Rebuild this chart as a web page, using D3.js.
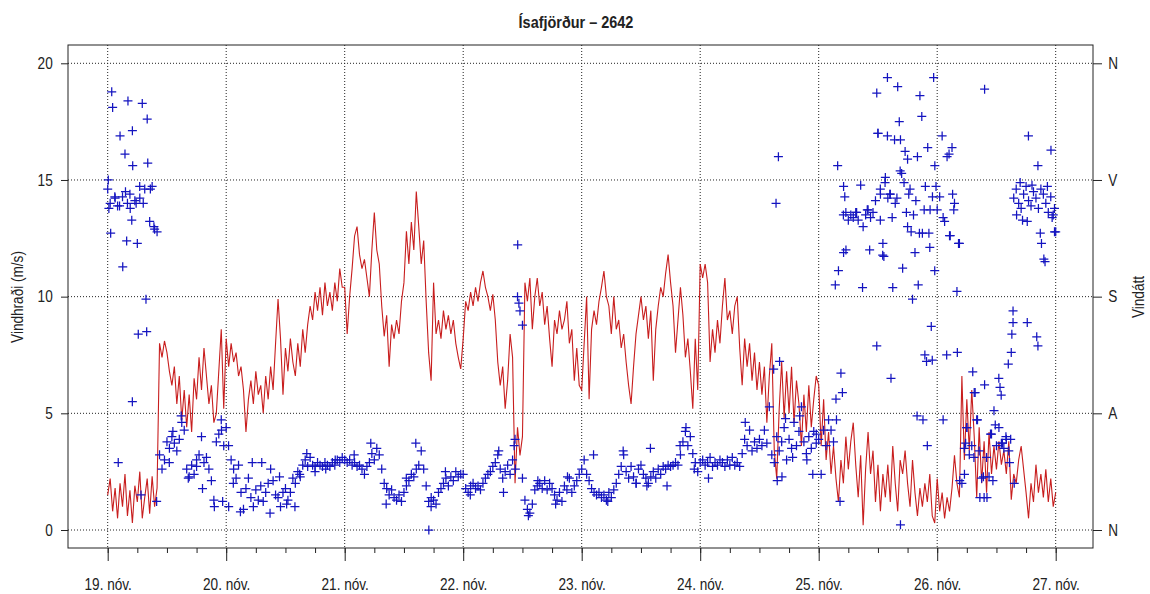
<!DOCTYPE html>
<html lang="is">
<head>
<meta charset="utf-8">
<title>Ísafjörður – 2642</title>
<script src="https://d3js.org/d3.v7.min.js"></script>
<style>
  body {margin: 0; background: #fff;}
  text {font-family: "Liberation Sans", Arial, sans-serif; fill: #222;}
</style>
</head>
<body>
<script>
// x axis: days of November
var dayTicks = [19, 20, 21, 22, 23, 24, 25, 26, 27];
var dayLabels = ["19. nóv.", "20. nóv.", "21. nóv.", "22. nóv.", "23. nóv.", "24. nóv.", "25. nóv.", "26. nóv.", "27. nóv."];
var speedTicks = [0, 5, 10, 15, 20];
var dirTicks = [0, 90, 180, 270, 360];
var dirLabels = ["N", "A", "S", "V", "N"];

// wind speed (m/s), one value every half hour from 19. nóv. 00:00
var speed19 = [1.5,2.2,0.8,1.8,0.5,2.0,1.0,2.4,0.6,1.7,0.3,1.9,1.2,2.5,0.5,1.4,2.2,0.7,2.3,1.0,1.8,8.0,7.4,8.1,7.6,6.8,6.2,7.0,5.4,6.6,4.7,6.0,4.4,5.8,4.2,6.5,5.6,7.4,6.0,7.8,6.6,5.4,6.2,4.6,5.0,6.8,8.6,5.2];
var speed20 = [8.2,7.0,8.0,7.2,7.6,6.6,7.0,6.0,4.2,5.6,6.4,5.4,6.8,5.8,6.2,5.0,6.6,5.6,7.0,6.0,8.0,9.9,8.2,5.8,7.8,6.8,8.2,7.2,6.6,8.0,7.0,8.6,7.6,8.8,9.6,9.0,10.2,9.4,10.4,9.2,10.6,9.6,10.2,9.4,10.6,9.8,11.2,10.4];
var speed21 = [10.4,8.4,10.0,11.2,12.6,13.0,11.8,11.2,11.6,10.8,10.0,12.0,13.6,12.0,11.4,9.6,8.3,9.2,7.0,8.8,8.2,9.0,8.4,9.8,10.6,12.8,11.4,13.2,12.0,14.5,13.0,11.4,12.4,9.8,7.6,6.4,10.6,8.4,9.0,8.2,9.4,8.6,9.2,8.4,9.0,8.0,7.4,6.9];
var speed22 = [8.2,9.8,9.4,10.2,9.6,10.4,9.8,10.6,11.1,10.4,10.0,9.4,10.1,9.0,7.2,6.2,7.0,5.2,6.4,8.4,7.4,2.0,4.4,3.2,4.0,10.6,9.8,10.8,8.6,10.0,10.8,9.6,10.2,8.8,9.6,8.2,7.0,9.0,8.4,9.4,8.6,9.0,9.8,8.0,8.6,6.4,7.8,6.2];
var speed23 = [6.0,8.0,10.0,5.6,8.6,9.4,8.8,9.8,10.4,11.1,10.0,9.6,8.4,10.0,8.6,9.0,7.8,8.4,7.2,6.2,5.4,7.0,8.4,9.2,10.0,9.0,9.6,8.2,9.4,6.4,8.6,9.6,10.4,10.0,11.0,11.8,10.6,9.6,7.6,9.0,10.4,9.2,7.4,8.2,6.8,5.2,8.2,6.0];
var speed24 = [11.4,10.8,11.4,10.6,7.2,8.6,7.6,9.0,8.0,9.6,10.8,9.0,9.4,8.4,9.6,10.0,7.8,6.2,8.2,7.0,8.0,6.4,7.6,6.0,7.2,5.8,7.0,4.6,6.6,8.0,3.4,2.2,5.2,7.2,4.8,6.8,5.0,7.0,4.6,6.4,5.4,3.6,5.8,4.2,6.2,4.4,5.6,6.6];
var speed25 = [6.2,3.6,5.6,3.0,4.2,2.4,3.6,2.2,1.2,3.0,2.0,4.0,2.6,3.8,4.6,2.8,1.4,3.2,0.2,2.6,4.2,2.4,3.4,1.2,2.8,0.8,2.4,1.4,2.8,1.2,3.6,2.0,0.8,3.0,2.4,3.4,2.0,1.0,3.0,1.6,0.6,1.8,1.0,2.0,1.2,2.4,0.6,0.3];
var speed26 = [2.2,0.8,1.6,0.5,1.4,0.8,1.8,3.2,2.0,1.4,6.6,3.0,5.6,3.4,6.0,4.0,1.4,4.4,2.0,3.8,1.6,4.2,2.4,3.6,2.6,3.8,2.8,3.4,2.4,3.8,1.3,2.4,2.0,3.0,3.6,2.6,1.6,0.5,2.0,1.2,2.8,1.6,2.4,1.4,2.6,1.2,2.2,1.0];
var speed27 = [1.6];

// wind direction (degrees), same half hour steps
var dir19 = [263,252,326,256,250,304,257,290,252,259,308,254,221,256,329,263,317,238,265,232,230,58,47,54,68,63,72,67,61,70,83,77,47,41,50,43,49,58,72,52,56,47,38,23,68,74,85,65];
var dir20 = [79,18,54,47,40,50,29,16,32,40,25,18,31,23,34,22,29,36,47,38,27,25,18,29,32,23,29,40,36,45,41,50,54,49,56,50,49,52,50,49,52,50,49,52,50,54,52,56];
var dir21 = [54,52,54,50,52,49,50,47,43,49,52,59,54,63,58,47,36,32,27,31,25,23,27,22,29,34,38,43,41,47,50,61,47,34,22,18,23,20,29,32,36,40,34,41,38,45,41,43];
var dir22 = [43,32,29,34,36,32,34,31,36,40,43,45,49,52,58,47,40,45,50,43,54,70,180,169,158,23,16,13,20,31,34,36,32,38,31,36,32,27,23,29,22,34,31,40,29,34,38,43];
var dir23 = [47,54,43,38,32,29,27,29,25,27,23,29,25,31,36,43,49,58,45,40,49,41,36,47,50,43,40,36,41,45,40,47,43,49,47,50,49,50,52,50,58,68,76,65,72,59,52,45];
var dir24 = [52,54,50,52,56,49,52,50,54,52,49,54,50,56,50,52,49,59,70,65,77,61,68,63,70,65,77,67,95,58,52,72,61,68,79,54,70,63,83,65,76,95,68,59,72,63,76,67];
var dir25 = [70,43,77,65,85,77,68,101,200,121,243,245,239,243,241,245,239,266,234,243,247,241,245,254,306,259,221,272,256,259,187,252,342,277,202,292,234,263,178,214,288,335,229,135,65,218,131,200];
var dir26 = [247,257,304,238,288,227,295,252,184,221,36,63,79,58,65,106,85,61,40,25,56,41,74,92,65,79,67,63,70,61,137,256,263,252,248,259,265,254,250,261,256,248,263,259,252,245,257,243];
var dir27 = [230];

// further direction readings in between: [day, degrees]
var dirExtra = [
  [19.034,338],[19.171,331],[19.211,281],[19.338,283],[19.005,270],[19.203,239],[19.025,229],[19.160,223],[19.127,203],
  [19.323,178],[19.258,151],[19.329,153],[19.208,99],[19.089,52],[19.281,27],[19.413,22],[19.01,248],[19.06,257],
  [19.10,250],[19.15,261],[19.19,248],[19.24,252],[19.27,265],[19.30,252],[19.36,263],[19.39,234],[19.52,52],[19.55,76],
  [19.62,88],[19.68,40],[19.75,54],[19.80,32],[19.90,18],[19.96,77],[19.97,22],
  [20.02,65],[20.06,36],[20.12,14],[20.22,52],[20.30,52],[20.37,13],[20.45,41],[20.51,20],[20.58,18],[20.62,43],
  [20.68,59],[20.75,45],[20.84,47],[20.92,54],
  [21.08,58],[21.22,67],[21.35,20],[21.52,40],[21.60,67],[21.71,0],[21.73,25],[21.85,45],
  [22.06,27],[22.30,61],[22.34,29],[22.43,65],[22.44,47],[22.46,220],[22.47,175],[22.50,40],[22.55,11],[22.63,38],
  [22.78,20],[22.88,41],
  [23.10,58],[23.22,22],[23.35,61],[23.46,36],[23.55,34],[23.58,63],[23.72,34],[23.83,65],[23.88,79],[23.95,47],
  [24.07,40],[24.38,83],[24.62,124],[24.67,130],[24.65,38],[24.69,41],[24.66,288],[24.64,252],[24.72,86],[24.78,56],
  [24.84,88],[24.90,54],[24.95,43],[24.98,74],
  [25.14,189],[25.16,281],[25.18,22],[25.20,106],[25.21,265],[25.22,257],[25.23,216],[25.21,214],[25.15,85],[25.32,245],
  [25.37,187],[25.41,247],[25.43,216],[25.49,337],[25.49,142],[25.50,306],[25.52,263],[25.52,239],[25.54,212],[25.55,211],
  [25.56,268],[25.58,349],[25.58,304],[25.60,259],[25.61,117],[25.62,241],[25.64,301],[25.66,256],[25.68,315],[25.69,4],
  [25.69,301],[25.70,275],[25.72,268],[25.74,245],[25.75,286],[25.76,259],[25.78,230],[25.80,243],[25.82,254],[25.83,88],
  [25.84,189],[25.85,229],[25.87,319],[25.88,85],[25.89,247],[25.90,265],[25.91,130],[25.92,295],[25.93,229],[25.94,247],
  [25.95,157],[25.96,257],[25.97,349],[25.98,281],[25.99,265],
  [26.05,85],[26.05,241],[26.08,135],[26.10,290],[26.11,227],[26.13,259],[26.14,247],[26.17,137],[26.18,221],[26.19,38],
  [26.23,43],[26.24,67],[26.25,79],[26.30,122],[26.31,56],[26.32,106],[26.34,85],[26.36,25],[26.39,41],[26.40,340],
  [26.40,112],[26.42,25],[26.45,74],[26.47,38],[26.49,81],[26.52,117],[26.53,110],[26.54,104],[26.55,67],[26.58,72],
  [26.60,128],[26.61,52],[26.62,70],[26.63,151],[26.64,160],[26.64,169],[26.65,36],[26.67,243],[26.70,268],[26.72,239],
  [26.76,160],[26.76,238],[26.77,304],[26.80,266],[26.84,149],[26.85,142],[26.85,281],[26.87,229],[26.88,221],[26.90,209],
  [26.91,207],[26.93,265],[26.96,293],[26.97,241],[26.99,230],[26.99,248]
];

var w = 1150, h = 594;
var frame = {left: 68, right: 1093, top: 45, bottom: 548};
var squeeze = "scale(0.85,1)";

var speeds = [].concat(speed19, speed20, speed21, speed22, speed23, speed24, speed25, speed26, speed27);
var dirs = [].concat(dir19, dir20, dir21, dir22, dir23, dir24, dir25, dir26, dir27);
var speedData = speeds.map(function(v, i) { return {day: 19 + i / 48, v: v}; });
var dirData = dirs.map(function(v, i) { return {day: 19 + i / 48, v: v}; })
  .concat(dirExtra.map(function(d) { return {day: d[0], v: d[1]}; }));

var x = d3.scaleLinear().domain([19, 27]).range([107.7, 1055.7]);
var y = d3.scaleLinear().domain([0, 20]).range([530, 63.3]);
var yDir = d3.scaleLinear().domain([0, 360]).range([530, 63.3]);

var svg = d3.select("body").append("svg")
  .attr("width", w)
  .attr("height", h)
  .style("display", "block");

// grid
svg.append("g").selectAll("line")
  .data(speedTicks)
  .join("line")
  .attr("x1", frame.left).attr("x2", frame.right)
  .attr("y1", d => y(d)).attr("y2", d => y(d))
  .attr("stroke", "#222").attr("stroke-dasharray", "1,2");

svg.append("g").selectAll("line")
  .data(dayTicks)
  .join("line")
  .attr("x1", d => x(d)).attr("x2", d => x(d))
  .attr("y1", frame.top).attr("y2", frame.bottom)
  .attr("stroke", "#222").attr("stroke-dasharray", "1,2");

// wind speed line
svg.append("path")
  .datum(speedData)
  .attr("fill", "none")
  .attr("stroke", "#c81e1e")
  .attr("stroke-width", 1.1)
  .attr("d", d3.line().x(d => x(d.day)).y(d => y(d.v)));

// wind direction crosses
svg.append("g").selectAll("path")
  .data(dirData)
  .join("path")
  .attr("transform", d => "translate(" + x(d.day) + "," + yDir(d.v) + ")")
  .attr("d", "M-4.5,0H4.5M0,-4.5V4.5")
  .attr("stroke", "#1414c0")
  .attr("stroke-width", 1.25)
  .attr("fill", "none");

// frame
svg.append("rect")
  .attr("x", frame.left).attr("y", frame.top)
  .attr("width", frame.right - frame.left)
  .attr("height", frame.bottom - frame.top)
  .attr("fill", "none").attr("stroke", "#222");

// axes
var leftAxis = svg.append("g")
  .attr("transform", "translate(" + frame.left + ",0)")
  .call(d3.axisLeft(y).tickValues(speedTicks).tickSize(7).tickPadding(11));
var rightAxis = svg.append("g")
  .attr("transform", "translate(" + frame.right + ",0)")
  .call(d3.axisRight(yDir).tickValues(dirTicks).tickSize(9).tickPadding(9)
    .tickFormat((d, i) => dirLabels[i]));
var bottomMinor = svg.append("g")
  .attr("transform", "translate(0," + frame.bottom + ")")
  .call(d3.axisBottom(x).tickValues(d3.range(19, 27.01, 0.25)).tickSize(5).tickFormat(""));
var bottomAxis = svg.append("g")
  .attr("transform", "translate(0," + frame.bottom + ")")
  .call(d3.axisBottom(x).tickValues(dayTicks).tickSize(13).tickPadding(18)
    .tickFormat((d, i) => dayLabels[i]));

[leftAxis, rightAxis, bottomMinor, bottomAxis].forEach(function(g) {
  g.select(".domain").remove();
  g.selectAll("line").attr("stroke", "#222");
  g.selectAll("text")
    .style("font-size", "16px")
    .attr("fill", "#222")
    .attr("transform", squeeze);
});

// titles
svg.append("text")
  .attr("transform", "translate(576,28) " + squeeze)
  .attr("text-anchor", "middle")
  .style("font-size", "17px")
  .style("font-weight", "bold")
  .text("Ísafjörður – 2642");

svg.append("text")
  .attr("transform", "translate(23,297) rotate(-90) " + squeeze)
  .attr("text-anchor", "middle")
  .style("font-size", "16px")
  .text("Vindhraði (m/s)");

svg.append("text")
  .attr("transform", "translate(1144,297) rotate(-90) " + squeeze)
  .attr("text-anchor", "middle")
  .style("font-size", "16px")
  .text("Vindátt");
</script>
</body>
</html>
